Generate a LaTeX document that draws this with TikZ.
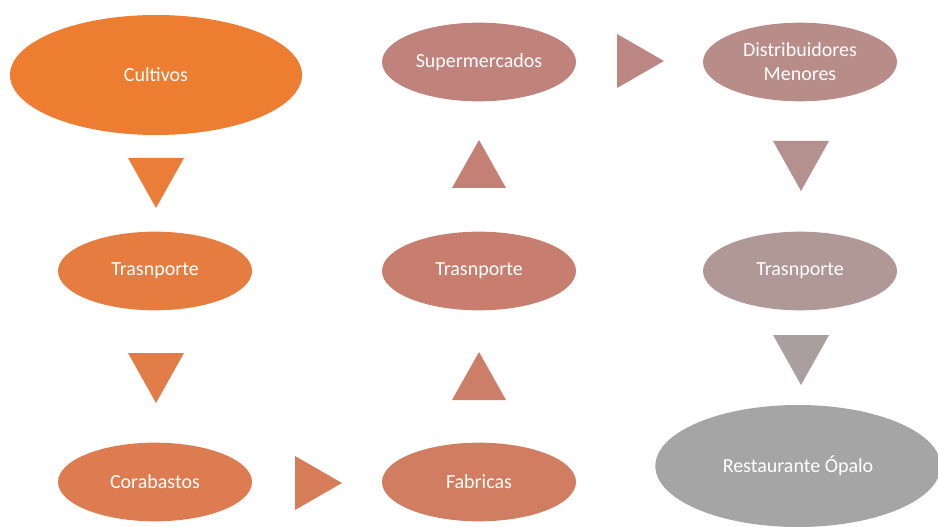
\documentclass[tikz,border=0pt]{standalone}
\usepackage{fontspec}
\setmainfont{Carlito}
\usetikzlibrary{shapes.geometric}
\definecolor{cA}{RGB}{237,125,49}
\definecolor{cB}{RGB}{234,125,56}
\definecolor{cC}{RGB}{229,125,65}
\definecolor{cD}{RGB}{225,125,72}
\definecolor{cE}{RGB}{220,124,80}
\definecolor{cF}{RGB}{215,124,88}
\definecolor{cG}{RGB}{208,125,97}
\definecolor{cH}{RGB}{204,126,104}
\definecolor{cI}{RGB}{200,126,110}
\definecolor{cJ}{RGB}{196,128,117}
\definecolor{cK}{RGB}{192,131,124}
\definecolor{cL}{RGB}{188,135,130}
\definecolor{cM}{RGB}{184,140,136}
\definecolor{cN}{RGB}{180,145,142}
\definecolor{cO}{RGB}{175,152,150}
\definecolor{cP}{RGB}{170,158,158}
\definecolor{cQ}{RGB}{165,165,165}
\tikzset{
  stage/.style={ellipse, inner sep=0pt, minimum width=145.5pt, minimum height=59pt,
    text=white, font=\fontsize{15}{18}\selectfont, align=center},
  bigstage/.style={stage, minimum width=219pt, minimum height=90pt},
  endstage/.style={stage, minimum width=214pt, minimum height=91.5pt},
}
\newcommand{\tridown}[2]{\fill[#2] (#1) ++(-28,-25) -- ++(56,0) -- ++(-28,50) -- cycle;}
\newcommand{\triup}[2]{\fill[#2] (#1) ++(-27,24) -- ++(54,0) -- ++(-27,-48) -- cycle;}
\newcommand{\triright}[2]{\fill[#2] (#1) ++(-23,-27) -- ++(47,27) -- ++(-47,27) -- cycle;}
\begin{document}
\begin{tikzpicture}[x=0.75pt,y=-0.75pt]
\useasboundingbox (0,0) rectangle (938,527);
\node[bigstage, fill=cA] (cult) at (156,75) {Cultivos};
\coordinate (t1) at (156,183); \tridown{t1}{cB}
\node[stage, fill=cC] (tr1) at (155,271) {Trasnporte};
\coordinate (t2) at (156,378); \tridown{t2}{cD}
\node[stage, fill=cE] (cora) at (155,482) {Corabastos};
\coordinate (t3) at (318,483); \triright{t3}{cF}
\node[stage, fill=cG] (fab) at (479,482) {Fabricas};
\coordinate (t4) at (479,376); \triup{t4}{cH}
\node[stage, fill=cI] (tr2) at (479,271) {Trasnporte};
\coordinate (t5) at (479,164); \triup{t5}{cJ}
\node[stage, fill=cK] (super) at (479,62) {Supermercados};
\coordinate (t6) at (640,61); \triright{t6}{cL}
\node[stage, fill=cM] (dist) at (800,62) {Distribuidores\\Menores};
\coordinate (t7) at (801,166); \tridown{t7}{cN}
\node[stage, fill=cO] (tr3) at (800,271) {Trasnporte};
\coordinate (t8) at (801,360); \tridown{t8}{cP}
\node[endstage, fill=cQ] (rest) at (798,466) {Restaurante Ópalo};
\end{tikzpicture}
\end{document}
